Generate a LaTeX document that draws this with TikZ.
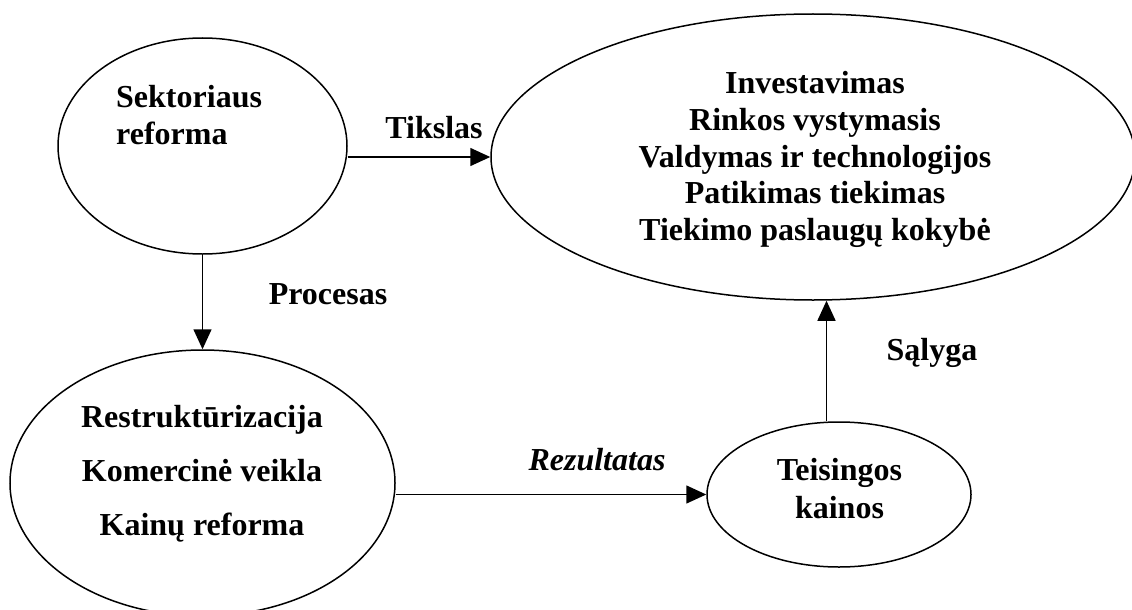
\documentclass[tikz,border=0pt]{standalone}
\usepackage{fontspec}
\setmainfont{Liberation Serif}
\usetikzlibrary{shapes.geometric,arrows.meta}
\tikzset{
  oval/.style={ellipse, draw=black, line width=1.5pt, inner sep=0pt},
  txt/.style={anchor=base, inner sep=0pt, font=\fontsize{32}{36}\selectfont\bfseries},
  itxt/.style={anchor=base, inner sep=0pt, font=\fontsize{32}{36}\selectfont\bfseries\itshape},
  arr/.style={line width=1.5pt, -{Triangle[length=20pt,width=18pt]}}
}
\begin{document}
\begin{tikzpicture}[x=1pt,y=-1pt]
\clip (0,0) rectangle (1132,610);
\fill[white] (0,0) rectangle (1132,610);
% ellipses
\node[oval, minimum width=289pt, minimum height=216pt] (e1) at (202.5,146) {};
\node[oval, minimum width=644pt, minimum height=286pt] (e2) at (813,157) {};
\node[oval, minimum width=385pt, minimum height=266pt] (e3) at (202.5,483) {};
\node[oval, minimum width=264pt, minimum height=145pt] (e4) at (839,494.5) {};
% texts
\node[txt, anchor=base west] (t1a) at (116,107) {Sektoriaus};
\node[txt, anchor=base west] (t1b) at (116,144) {reforma};
\node[txt] (t2a) at (815,93) {Investavimas};
\node[txt] (t2b) at (815,130) {Rinkos vystymasis};
\node[txt] (t2c) at (815,167) {Valdymas ir technologijos};
\node[txt] (t2d) at (815,203) {Patikimas tiekimas};
\node[txt] (t2e) at (815,240) {Tiekimo paslaugų kokybė};
\node[txt] (t3a) at (202,427) {Restruktūrizacija};
\node[txt] (t3b) at (202,481) {Komercinė veikla};
\node[txt] (t3c) at (202,535) {Kainų reforma};
\node[txt] (t4a) at (839.5,480) {Teisingos};
\node[txt] (t4b) at (839.5,518) {kainos};
% connector labels
\node[txt] (l1) at (434,138) {Tikslas};
\node[txt] (l2) at (328,304) {Procesas};
\node[txt] (l3) at (932,360) {Sąlyga};
\node[itxt] (l4) at (597,470) {Rezultatas};
% connectors
\coordinate (s) at (826.5,0);
\draw[arr] (e2.west -| e1.east) -- (e2.west);
\draw[arr] (e1.south) -- (e3.north);
\draw[arr] (e4.west -| e3.east) -- (e4.west);
\draw[arr] (e4.north -| s) -- (e2.south -| s);
\end{tikzpicture}
\end{document}
